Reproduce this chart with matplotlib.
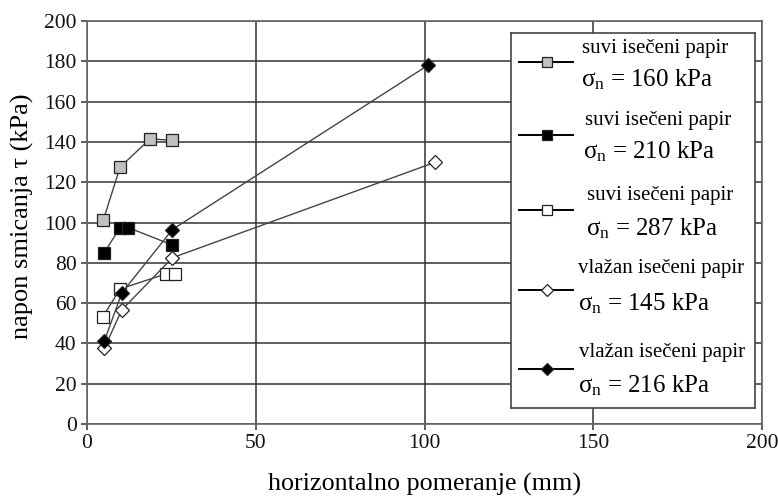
import matplotlib
matplotlib.use("Agg")
import matplotlib.pyplot as plt
from matplotlib.lines import Line2D

plt.rcParams['font.family'] = ['Liberation Serif', 'DejaVu Serif']
plt.rcParams['mathtext.fontset'] = 'custom'
plt.rcParams['mathtext.rm'] = 'Liberation Serif'
plt.rcParams['mathtext.it'] = 'Liberation Serif'

# data
x_s160 = [4.8, 9.8, 18.7, 25.3]
y_s160 = [101, 127.5, 141.5, 140.8]
x_s210 = [5.1, 9.8, 12.2, 25.3]
y_s210 = [85, 97.5, 97.5, 88.8]
x_s287 = [4.6, 9.8, 23.4, 26.1]
y_s287 = [53, 67, 74.5, 74.5]
x_v145 = [5.1, 10.3, 25.3, 103.0]
y_v145 = [37.5, 56.6, 82.5, 129.8]
x_v216 = [5.1, 10.3, 25.3, 101.0]
y_v216 = [41, 65, 96.5, 178]

series = [
    (x_s160, y_s160, 's', '#c0c0c0', 'suvi isečeni papir', '160'),
    (x_s210, y_s210, 's', 'black', 'suvi isečeni papir', '210'),
    (x_s287, y_s287, 's', 'white', 'suvi isečeni papir', '287'),
    (x_v145, y_v145, 'D', 'white', 'vlažan isečeni papir', '145'),
    (x_v216, y_v216, 'D', 'black', 'vlažan isečeni papir', '216'),
]

fig = plt.figure(figsize=(7.78, 4.97), dpi=100)
ax = fig.add_axes([87/778, 1-424/497, 675/778, 403/497])

for xs, ys, m, fc, _, _ in series:
    ms = 9 if m == 's' else 7.5
    ax.plot(xs, ys, color='#444444', lw=1.0, marker=m, ms=ms,
            mfc=fc, mec='#222222', mew=0.9, zorder=3)

ax.set_xlim(0, 200)
ax.set_ylim(0, 200)
ax.set_xticks([0, 50, 100, 150, 200])
ax.set_yticks(range(0, 201, 20))
ax.grid(True, color='#333333', lw=1.1)
ax.set_axisbelow(True)
for s in ax.spines.values():
    s.set_color('#666666')
    s.set_linewidth(1.2)
ax.tick_params(direction='out', length=4.5, width=1.1, colors='#333333',
               labelsize=15.5, labelcolor='#111111', pad=3)
ax.set_xlabel('horizontalno pomeranje (mm)', fontsize=18.8)
ax.xaxis.set_label_coords(0.5, -0.122)
ax.set_ylabel('napon smicanja τ (kPa)', fontsize=19)
ax.yaxis.set_label_coords(-0.095, 0.516)
ax.yaxis.label.set_va('center')

# legend box
lx0, lx1, ly0, ly1 = 511, 755, 33, 408
lax = fig.add_axes([lx0/778, 1-ly1/497, (lx1-lx0)/778, (ly1-ly0)/497])
lax.set_xlim(lx0, lx1)
lax.set_ylim(ly1, ly0)
lax.set_xticks([]); lax.set_yticks([])
for s in lax.spines.values():
    s.set_color('#444444')
    s.set_linewidth(1.2)
lax.set_zorder(5)

hy = [62, 135, 210, 290, 369]
t1 = [48, 120, 195, 268, 352]
t2 = [80, 152, 229, 304, 386]
tx1 = [582, 585, 587, 578, 579]
tx2 = [581, 583, 586, 578, 578]
for i, (xs, ys, m, fc, name, sig) in enumerate(series):
    ms = 7 if m == 's' else 6.5
    lax.add_line(Line2D([519, 573], [hy[i], hy[i]], color='black', lw=1.4))
    lax.add_line(Line2D([547], [hy[i]], marker=m, ms=ms, mfc=fc,
                        mec='#222222', mew=0.9, ls='none'))
    lax.text(tx1[i], t1[i], name, fontsize=15, va='center', ha='left')
    lax.text(tx2[i], t2[i], r'$\sigma_\mathrm{n}$ = ' + sig + ' kPa',
             fontsize=18, va='center', ha='left')

fig.savefig('out.png', dpi=100)
